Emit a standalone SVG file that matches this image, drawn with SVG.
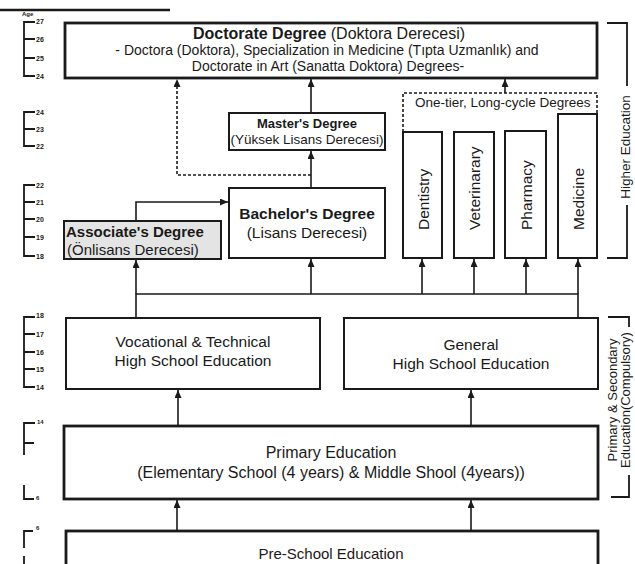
<svg xmlns="http://www.w3.org/2000/svg" width="635" height="564" viewBox="0 0 635 564">
<defs>
<marker id="ah" markerWidth="8" markerHeight="7" refX="8" refY="3.5" orient="auto" markerUnits="userSpaceOnUse">
<path d="M0,0 L8,3.5 L0,7 z" fill="#1a1a1a"/>
</marker>
<style>
text{font-family:"Liberation Sans",Arial,sans-serif;fill:#1a1a1a}
.box{fill:#fff;stroke:#1a1a1a;stroke-width:2}
.thick{stroke-width:2.8}
.c{text-anchor:middle}
.b{font-weight:bold}
.ln{fill:none;stroke:#1a1a1a;stroke-width:1.6}
.dash{stroke-dasharray:3,2}
.age{fill:none;stroke:#1a1a1a;stroke-width:1.8}
.al{font-size:7px;font-weight:bold}
.rot{font-size:15.5px;text-anchor:start;dominant-baseline:central}
.side{font-size:13.5px;text-anchor:middle}
</style>
</defs>
<rect width="635" height="564" fill="#fff"/>

<g id="header">
<line x1="0" y1="10" x2="170" y2="10" stroke="#1a1a1a" stroke-width="2.5"/>
<text x="22" y="16" style="font-size:6px;font-weight:bold">Age</text>
</g>

<g id="age-scales">
<path class="age" d="M35,22 H24 V76 H35 M24,39 H35 M24,58 H35"/>
<text class="al" x="36" y="24">27</text><text class="al" x="36" y="42">26</text><text class="al" x="36" y="61">25</text><text class="al" x="36" y="79">24</text>
<path class="age" d="M35,112 H24 V146 H35 M24,129 H35"/>
<text class="al" x="36" y="115">24</text><text class="al" x="36" y="132">23</text><text class="al" x="36" y="149">22</text>
<path class="age" d="M35,185 H24 V256 H35 M24,202 H35 M24,219 H35 M24,237 H35"/>
<text class="al" x="36" y="188">22</text><text class="al" x="36" y="205">21</text><text class="al" x="36" y="222">20</text><text class="al" x="36" y="240">19</text><text class="al" x="36" y="259">18</text>
<path class="age" d="M35,317 H24 V387 H35 M24,334 H35 M24,352 H35 M24,369 H35"/>
<text class="al" x="36" y="318">18</text><text class="al" x="36" y="337">17</text><text class="al" x="36" y="355">16</text><text class="al" x="36" y="372">15</text><text class="al" x="36" y="390">14</text>
<path class="age" d="M35,423 H24 V455 M24,443 H34 M24,485 V499 H34"/>
<text class="al" x="37" y="424" style="font-size:6px">14</text><text class="al" x="36" y="500" style="font-size:6px">6</text>
<path class="age" d="M33,531 H24 V548 M24,556 V564"/>
<text class="al" x="36" y="530" style="font-size:6px">6</text>
</g>

<g id="doctorate">
<rect class="box thick" x="65" y="23" width="532" height="55"/>
<text class="c" x="329" y="39" style="font-size:16px"><tspan class="b">Doctorate Degree</tspan> (Doktora Derecesi)</text>
<text class="c" x="327" y="55" style="font-size:14px">- Doctora (Doktora), Specialization in Medicine (Tıpta Uzmanlık) and</text>
<text class="c" x="328" y="71" style="font-size:14px">Doctorate in Art (Sanatta Doktora) Degrees-</text>
</g>

<g id="masters">
<rect class="box" x="229" y="113" width="156" height="37"/>
<text class="c b" x="307" y="128" style="font-size:13px">Master's Degree</text>
<text class="c" x="307" y="144" style="font-size:13.5px">(Yüksek Lisans Derecesi)</text>
</g>

<g id="associate">
<rect class="box" x="64" y="221" width="157" height="38" style="fill:#e4e4e4"/>
<text class="b" x="66" y="237" style="font-size:15px">Associate's Degree</text>
<text x="67" y="255" style="font-size:15px">(Önlisans Derecesi)</text>
</g>

<g id="bachelors">
<rect class="box" x="229" y="188" width="156" height="70"/>
<text class="c b" x="307" y="219" style="font-size:15.5px">Bachelor's Degree</text>
<text class="c" x="307" y="238" style="font-size:15.5px">(Lisans Derecesi)</text>
</g>

<g id="one-tier">
<path class="ln dash" d="M403,132 V93 H597 V114"/>
<text x="415" y="107" style="font-size:13.5px">One-tier, Long-cycle Degrees</text>
</g>
<g id="dentistry">
<rect class="box" x="403" y="132" width="39" height="126"/>
<text class="rot" transform="translate(423,230) rotate(-90)">Dentistry</text>
</g>
<g id="veterinarary">
<rect class="box" x="454" y="132" width="40" height="126"/>
<text class="rot" transform="translate(474,230) rotate(-90)">Veterinarary</text>
</g>
<g id="pharmacy">
<rect class="box" x="505" y="131" width="41" height="127"/>
<text class="rot" transform="translate(526,230) rotate(-90)">Pharmacy</text>
</g>
<g id="medicine">
<rect class="box" x="558" y="114" width="39" height="144"/>
<text class="rot" transform="translate(578,230) rotate(-90)">Medicine</text>
</g>

<g id="higher-education-label">
<path class="age" d="M607,23 H627 V86 M627,205 V258 H607"/>
<text class="side" transform="translate(630,147) rotate(-90)">Higher Education</text>
</g>

<g id="vocational">
<rect class="box" x="66" y="318" width="254" height="71"/>
<text class="c" x="193" y="347" style="font-size:15.5px">Vocational &amp; Technical</text>
<text class="c" x="193" y="366" style="font-size:15.5px">High School Education</text>
</g>
<g id="general">
<rect class="box" x="344" y="318" width="254" height="71"/>
<text class="c" x="471" y="350" style="font-size:15.5px">General</text>
<text class="c" x="471" y="369" style="font-size:15.5px">High School Education</text>
</g>

<g id="primary">
<rect class="box thick" x="64" y="426" width="534" height="73"/>
<text class="c" x="331" y="458" style="font-size:16px">Primary Education</text>
<text class="c" x="331" y="478" style="font-size:16px">(Elementary School (4 years) &amp; Middle Shool (4years))</text>
</g>

<g id="compulsory-label">
<path class="age" d="M608,317 H629 V327 M629,475 V497 H611"/>
<text class="side" transform="translate(617,400) rotate(-90)" style="font-size:13px">Primary &amp; Secondary</text>
<text class="side" transform="translate(630,400) rotate(-90)" style="font-size:13px">Education(Compulsory)</text>
</g>

<g id="preschool">
<rect class="box thick" x="66" y="531" width="532" height="50"/>
<text class="c" x="331" y="559" style="font-size:15px">Pre-School Education</text>
</g>

<g id="connectors">
<path class="ln" d="M177,531 V500" marker-end="url(#ah)"/>
<path class="ln" d="M471,531 V500" marker-end="url(#ah)"/>
<path class="ln" d="M178,426 V390" marker-end="url(#ah)"/>
<path class="ln" d="M471,426 V390" marker-end="url(#ah)"/>
<path class="ln" d="M136,318 V294 H578 V318"/>
<path class="ln" d="M136,294 V260" marker-end="url(#ah)"/>
<path class="ln" d="M311,294 V259" marker-end="url(#ah)"/>
<path class="ln" d="M422,294 V259" marker-end="url(#ah)"/>
<path class="ln" d="M474,294 V259" marker-end="url(#ah)"/>
<path class="ln" d="M526,294 V259" marker-end="url(#ah)"/>
<path class="ln" d="M578,294 V259" marker-end="url(#ah)"/>
<path class="ln" d="M136,221 V202 H228" marker-end="url(#ah)"/>
<path class="ln" d="M311,188 V151" marker-end="url(#ah)"/>
<path class="ln" d="M311,113 V79" marker-end="url(#ah)"/>
<path class="ln dash" d="M311,175 H177 V79" marker-end="url(#ah)"/>
<path class="ln" d="M505,93 V79" marker-end="url(#ah)"/>
</g>
</svg>
